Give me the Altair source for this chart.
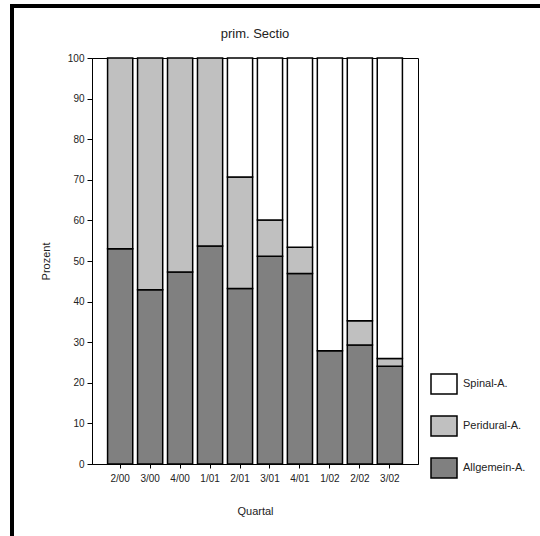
import altair as alt
import pandas as pd

quartals = ["2/00", "3/00", "4/00", "1/01", "2/01", "3/01", "4/01", "1/02", "2/02", "3/02"]
allgemein = [53.0, 42.9, 47.3, 53.7, 43.2, 51.2, 46.9, 27.9, 29.3, 24.1]
peridural = [47.0, 57.1, 52.7, 46.3, 27.5, 8.9, 6.5, 0.0, 6.0, 1.9]
spinal = [0.0, 0.0, 0.0, 0.0, 29.3, 39.9, 46.6, 72.1, 64.7, 74.0]

series = ["Spinal-A.", "Peridural-A.", "Allgemein-A."]
colors = ["#ffffff", "#c0c0c0", "#808080"]
title_text = "prim. Sectio"

rows = []
for i, q in enumerate(quartals):
    rows.append({"Quartal": q, "Art": "Allgemein-A.", "Wert": allgemein[i], "ord": 0})
    rows.append({"Quartal": q, "Art": "Peridural-A.", "Wert": peridural[i], "ord": 1})
    rows.append({"Quartal": q, "Art": "Spinal-A.", "Wert": spinal[i], "ord": 2})
df = pd.DataFrame(rows)
df = df[df["Wert"] > 0]

FONT = "Liberation Sans"

bars = alt.Chart(df).mark_bar(stroke="black", strokeWidth=1.5).encode(
    x=alt.X("Quartal:N", sort=quartals,
            scale=alt.Scale(paddingInner=0.16, paddingOuter=0.52),
            axis=alt.Axis(title="Quartal", labelAngle=0, tickSize=4, labelPadding=5,
                          titlePadding=22, domainColor="black", tickColor="black",
                          labelColor="#222", titleColor="#222",
                          labelFontSize=10, titleFontSize=11, titleFontWeight="normal")),
    y=alt.Y("Wert:Q", stack="zero",
            scale=alt.Scale(domain=[0, 100], nice=False),
            axis=alt.Axis(title="Prozent", values=list(range(0, 101, 10)), grid=False,
                          tickSize=5, labelPadding=3, titlePadding=16,
                          domainColor="black", tickColor="black",
                          labelColor="#222", titleColor="#222",
                          labelFontSize=10, titleFontSize=11, titleFontWeight="normal")),
    color=alt.Color("Art:N", scale=alt.Scale(domain=series, range=colors),
                    legend=alt.Legend(title=None, orient="none", legendX=341, legendY=315,
                                      symbolType="M-1.3,-1L1.3,-1L1.3,1L-1.3,1Z",
                                      symbolSize=400, symbolStrokeColor="black",
                                      symbolStrokeWidth=1.5, symbolOpacity=1,
                                      labelOffset=8, labelFontSize=11, labelColor="#222",
                                      rowPadding=16, padding=0, labelFont=FONT)),
    order=alt.Order("ord:Q"),
)

frame_df = pd.DataFrame({"k": [0]})
left_bar = alt.Chart(frame_df).mark_rule(color="black", strokeWidth=4, strokeCap="butt").encode(
    x=alt.value(-80), y=alt.value(-54), y2=alt.value(480)
)
top_bar = alt.Chart(frame_df).mark_rule(color="black", strokeWidth=4, strokeCap="butt").encode(
    x=alt.value(-82), x2=alt.value(450), y=alt.value(-52)
)
title = alt.Chart(frame_df).mark_text(
    text=title_text, fontSize=13, color="#222", font=FONT, baseline="middle", align="center"
).encode(x=alt.value(163), y=alt.value(-24))

chart = alt.layer(bars, left_bar, top_bar, title).properties(
    width=326, height=406,
    autosize=alt.AutoSizeParams(type="none"),
    padding={"left": 92, "top": 58, "right": 122, "bottom": 72},
).configure(
    font=FONT, background="white"
).configure_view(
    stroke="black", strokeWidth=1
)

chart.save("out.html", embed_options={"renderer": "svg", "actions": False})
